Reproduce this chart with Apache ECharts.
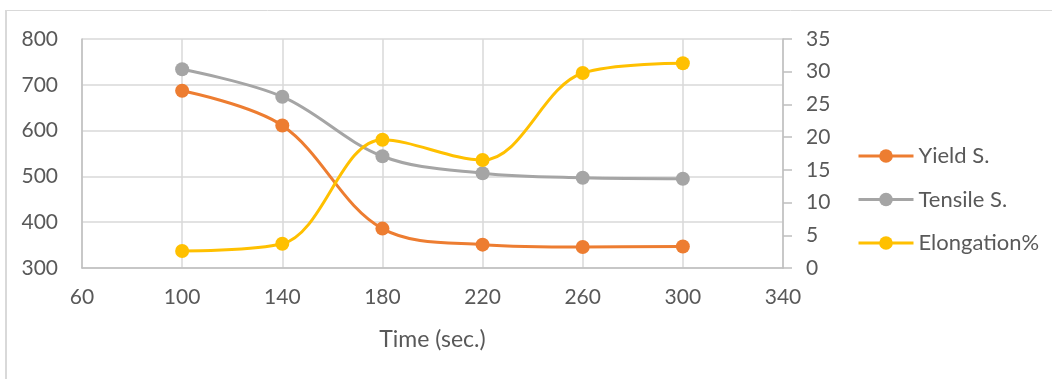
<!DOCTYPE html>
<html>
<head>
<meta charset="utf-8">
<style>
  html, body { margin: 0; padding: 0; background: #fff; }
  #chart { width: 1052px; height: 379px; }
</style>
<script src="https://cdn.jsdelivr.net/npm/echarts@6/dist/echarts.min.js"></script>
</head>
<body>
<div id="chart"></div>
<script>
// Heat-treatment time (s) and measured properties
const times = [100, 140, 180, 220, 260, 300];
const yieldS = [687, 611, 386, 351, 346, 347];
const tensileS = [734, 674, 544, 507, 497, 495];
const elongation = [2.6, 3.7, 19.6, 16.5, 29.8, 31.3];

const leftTicks = { min: 300, max: 800, interval: 100 };
const rightTicks = { min: 0, max: 35, interval: 5 };
const timeTicks = { min: 60, max: 340, interval: 40 };

const FONT = 'Lato, "Open Sans", sans-serif';
const TEXT = '#595959';
const GRID = '#d9d9d9';
const AXIS = '#bfbfbf';

const pairs = (ys) => times.map((t, i) => [t, ys[i]]);

function lineSeries(name, color, data, yIndex) {
  return {
    name, type: 'line', yAxisIndex: yIndex, data: pairs(data),
    smooth: 0.35, symbol: 'circle', symbolSize: 14,
    lineStyle: { color, width: 3 },
    itemStyle: { color },
    emphasis: { disabled: true }
  };
}

const chart = echarts.init(document.getElementById('chart'), null, { renderer: 'canvas' });
chart.setOption({
  animation: false,
  textStyle: { fontFamily: FONT },
  graphic: [
    { type: 'line', shape: { x1: 6, y1: 10.5, x2: 1052, y2: 10.5 }, style: { stroke: GRID, lineWidth: 1 } },
    { type: 'line', shape: { x1: 6, y1: 10, x2: 6, y2: 379 }, style: { stroke: GRID, lineWidth: 2 } }
  ],
  grid: { left: 82, right: 269, top: 39, bottom: 111, containLabel: false },
  legend: {
    orient: 'vertical', left: 852, top: 140,
    itemWidth: 55, itemHeight: 17, itemGap: 21.5,
    lineStyle: { width: 3 },
    textStyle: { color: TEXT, fontSize: 22, fontFamily: FONT },
    data: ['Yield S.', 'Tensile S.', 'Elongation%']
  },
  xAxis: {
    type: 'value', min: timeTicks.min, max: timeTicks.max, interval: timeTicks.interval,
    name: 'Time (sec.)', nameLocation: 'middle', nameGap: 60,
    nameTextStyle: { color: TEXT, fontSize: 23, fontFamily: FONT },
    axisLine: { show: true, lineStyle: { color: AXIS, width: 1.5 } },
    axisTick: { show: false },
    splitLine: { show: true, lineStyle: { color: GRID, width: 1.5 } },
    axisLabel: { color: TEXT, fontSize: 21, margin: 19, fontFamily: FONT }
  },
  yAxis: [
    {
      type: 'value', position: 'left',
      min: leftTicks.min, max: leftTicks.max, interval: leftTicks.interval,
      axisLine: { show: true, lineStyle: { color: AXIS, width: 1.5 } },
      axisTick: { show: false },
      splitLine: { show: true, lineStyle: { color: GRID, width: 1.5 } },
      axisLabel: { color: TEXT, fontSize: 21, margin: 24, fontFamily: FONT }
    },
    {
      type: 'value', position: 'right',
      min: rightTicks.min, max: rightTicks.max, interval: rightTicks.interval,
      axisLine: { show: true, lineStyle: { color: AXIS, width: 1.5 } },
      axisTick: { show: true, inside: false, length: 9, lineStyle: { color: AXIS, width: 1.5 } },
      splitLine: { show: false },
      axisLabel: { color: TEXT, fontSize: 21, margin: 23, fontFamily: FONT }
    }
  ],
  series: [
    lineSeries('Yield S.', '#ED7D31', yieldS, 0),
    lineSeries('Tensile S.', '#A5A5A5', tensileS, 0),
    lineSeries('Elongation%', '#FFC000', elongation, 1)
  ]
});
</script>
</body>
</html>
